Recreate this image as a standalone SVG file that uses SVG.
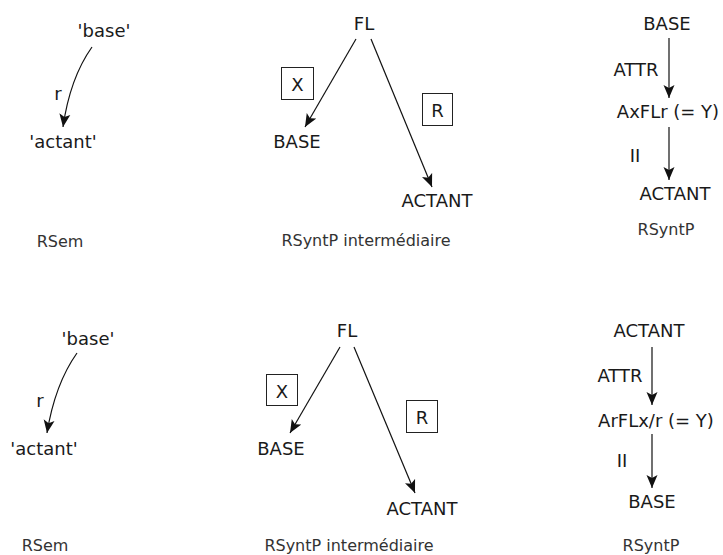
<svg xmlns="http://www.w3.org/2000/svg" width="723" height="555" viewBox="0 0 723 555">
  <style>
    .lbl { font-family: "DejaVu Sans", "Liberation Sans", sans-serif; font-size: 18px; fill: #1a1a1a; text-anchor: middle; }
    .cap { font-family: "DejaVu Sans", "Liberation Sans", sans-serif; font-size: 16px; fill: #333; text-anchor: middle; }
    .edge { fill: none; stroke: #111; stroke-width: 1.2; marker-end: url(#arrow); }
    .box { fill: none; stroke: #222; stroke-width: 1; }
  </style>
  <defs>
    <marker id="arrow" markerUnits="userSpaceOnUse" markerWidth="14" markerHeight="12" viewBox="0 0 14 12" refX="13" refY="6" orient="auto">
      <path d="M0,0.5 L13,6 L0,11.5 L3,6 z" fill="#111"/>
    </marker>
  </defs>
  <rect width="723" height="555" fill="#fff"/>

  <!-- top row: semantic representation -->
  <g id="sem1-base"><text class="lbl" x="104" y="37">'base'</text></g>
  <g id="sem1-actant"><text class="lbl" x="63" y="148">'actant'</text></g>
  <g id="sem1-caption"><text class="cap" x="60" y="247">RSem</text></g>

  <!-- top row: intermediate deep-syntactic structure -->
  <g id="int1-fl"><text class="lbl" x="364" y="30">FL</text></g>
  <g id="int1-x"><rect class="box" x="281.5" y="67.5" width="32" height="32"/><text class="lbl" x="297.5" y="91">X</text></g>
  <g id="int1-base"><text class="lbl" x="297" y="148">BASE</text></g>
  <g id="int1-r"><rect class="box" x="422.5" y="93.5" width="30" height="32"/><text class="lbl" x="437.5" y="117">R</text></g>
  <g id="int1-actant"><text class="lbl" x="437" y="207">ACTANT</text></g>
  <g id="int1-caption"><text class="cap" x="366" y="246">RSyntP intermédiaire</text></g>

  <!-- top row: deep-syntactic structure -->
  <g id="dsynt1-base"><text class="lbl" x="667" y="30">BASE</text></g>
  <g id="dsynt1-attr"><text class="lbl" x="636" y="76">ATTR</text></g>
  <g id="dsynt1-axflr"><text class="lbl" x="668" y="118">AxFLr (= Y)</text></g>
  <g id="dsynt1-ii"><text class="lbl" x="635" y="162">II</text></g>
  <g id="dsynt1-actant"><text class="lbl" x="675" y="200">ACTANT</text></g>
  <g id="dsynt1-caption"><text class="cap" x="666" y="235">RSyntP</text></g>

  <!-- bottom row: semantic representation -->
  <g id="sem2-base"><text class="lbl" x="88" y="345">'base'</text></g>
  <g id="sem2-actant"><text class="lbl" x="44" y="455">'actant'</text></g>
  <g id="sem2-caption"><text class="cap" x="45" y="551">RSem</text></g>

  <!-- bottom row: intermediate deep-syntactic structure -->
  <g id="int2-fl"><text class="lbl" x="347" y="337">FL</text></g>
  <g id="int2-x"><rect class="box" x="266.5" y="374.5" width="31" height="31"/><text class="lbl" x="282" y="398">X</text></g>
  <g id="int2-base"><text class="lbl" x="281" y="455">BASE</text></g>
  <g id="int2-r"><rect class="box" x="406.5" y="400.5" width="31" height="32"/><text class="lbl" x="422" y="424">R</text></g>
  <g id="int2-actant"><text class="lbl" x="422" y="515">ACTANT</text></g>
  <g id="int2-caption"><text class="cap" x="349" y="551">RSyntP intermédiaire</text></g>

  <!-- bottom row: deep-syntactic structure -->
  <g id="dsynt2-actant"><text class="lbl" x="649" y="337">ACTANT</text></g>
  <g id="dsynt2-attr"><text class="lbl" x="620" y="382">ATTR</text></g>
  <g id="dsynt2-arflx"><text class="lbl" x="656" y="427">ArFLx/r (= Y)</text></g>
  <g id="dsynt2-ii"><text class="lbl" x="622" y="467">II</text></g>
  <g id="dsynt2-base"><text class="lbl" x="652" y="508">BASE</text></g>
  <g id="dsynt2-caption"><text class="cap" x="651" y="551">RSyntP</text></g>

  <!-- connectors -->
  <g id="connectors">
    <path class="edge" d="M92,47 Q70,78 63,127"/>
    <text class="lbl" x="58" y="100">r</text>
    <path class="edge" d="M356,39 L305,127"/>
    <path class="edge" d="M371,39 L432,187"/>
    <path class="edge" d="M669,38 L669,98"/>
    <path class="edge" d="M669,127 L669,180"/>

    <path class="edge" d="M77,353 Q55,384 47,433"/>
    <text class="lbl" x="40" y="407">r</text>
    <path class="edge" d="M340,347 L290,433"/>
    <path class="edge" d="M354,347 L415,493"/>
    <path class="edge" d="M652,347 L652,405"/>
    <path class="edge" d="M652,434 L652,488"/>
  </g>
</svg>
